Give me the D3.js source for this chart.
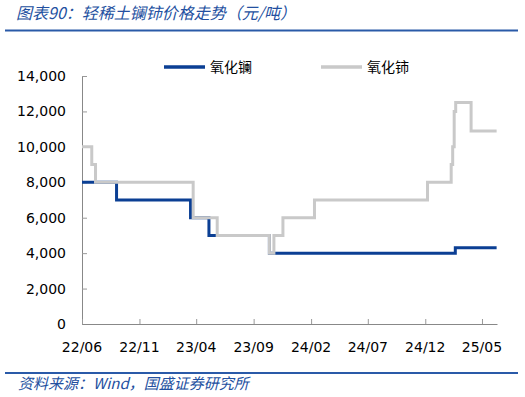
<!DOCTYPE html>
<html>
<head>
<meta charset="utf-8">
<script src="https://cdn.jsdelivr.net/npm/d3@7"></script>
<style>
  body { margin: 0; background: #fff; }
  svg { display: block; }
</style>
</head>
<body>
<script>
//chart data: step changes (date of change, price in yuan/ton)
var laDates = ["2022-06-01", "2022-09-01", "2023-03-17", "2023-05-05", "2023-10-13", "2025-02-19", "2025-06-09"];
var laValues = [8000, 7000, 6000, 5000, 4000, 4300, 4300];

var ceDates = ["2022-06-01", "2022-06-27", "2022-07-07", "2023-03-24", "2023-05-27", "2023-10-13", "2023-10-25",
               "2023-11-18", "2024-02-10", "2024-12-07", "2025-02-08", "2025-02-12", "2025-02-16", "2025-02-20",
               "2025-04-02", "2025-06-09"];
var ceValues = [10000, 9000, 8000, 6000, 5000, 4000, 5000,
                6000, 7000, 8000, 9000, 10000, 12000, 12500,
                10900, 10900];

var seriesNames = ["氧化镧", "氧化铈"];
var xTickLabels = ["22/06", "22/11", "23/04", "23/09", "24/02", "24/07", "24/12", "25/05"];
var yTicks = [0, 2000, 4000, 6000, 8000, 10000, 12000, 14000];

var titleText = "图表90：轻稀土镧铈价格走势（元/吨）";
var sourceText = "资料来源：Wind，国盛证券研究所";

//frame
var width = 525,
    height = 397;

var svg = d3.select("body")
    .append("svg")
    .attr("width", width)
    .attr("height", height);

var parse = d3.timeParse("%Y-%m-%d");
var fmtTick = d3.timeFormat("%y/%m");

var x = d3.scaleTime()
    .domain([parse("2022-06-01"), parse("2025-06-10")])
    .range([82, 497]);

var y = d3.scaleLinear()
    .domain([0, 14000])
    .range([324, 76]);

var blue = "#0b3f94",
    grey = "#c9c9c9",
    titleBlue = "#2350a0";

//title and rules
svg.append("text")
    .attr("x", 16)
    .attr("y", 19)
    .attr("font-family", "Noto Sans CJK SC")
    .attr("font-size", 16)
    .attr("font-style", "italic")
    .attr("fill", titleBlue)
    .text(titleText);

svg.append("line")
    .attr("x1", 5).attr("x2", 518)
    .attr("y1", 30.5).attr("y2", 30.5)
    .attr("stroke", "#2a5aa8")
    .attr("stroke-width", 2);

svg.append("line")
    .attr("x1", 5).attr("x2", 518)
    .attr("y1", 373).attr("y2", 373)
    .attr("stroke", "#2a5aa8")
    .attr("stroke-width", 2);

svg.append("text")
    .attr("x", 18)
    .attr("y", 389)
    .attr("font-family", "Noto Sans CJK SC")
    .attr("font-size", 15)
    .attr("font-style", "italic")
    .attr("fill", titleBlue)
    .text(sourceText);

//y axis
var yAxis = svg.append("g")
    .attr("transform", "translate(82,0)")
    .call(d3.axisRight(y).tickValues(yTicks).tickSize(5).tickFormat(""));
yAxis.select(".domain").attr("stroke", "#888");
yAxis.selectAll(".tick line").attr("stroke", "#999");

svg.selectAll(".ylab")
    .data(yTicks)
    .enter()
    .append("text")
    .attr("class", "ylab")
    .attr("x", 66)
    .attr("y", function(d){ return y(d) + 5; })
    .attr("text-anchor", "end")
    .attr("font-family", "DejaVu Sans")
    .attr("font-size", 14)
    .attr("fill", "#000")
    .text(d3.format(",d"));

//x axis
var xTickDates = xTickLabels.map(function(s){ return parse("20" + s.replace("/", "-") + "-01"); });
var xAxis = svg.append("g")
    .attr("transform", "translate(0,324)")
    .call(d3.axisTop(x).tickValues(xTickDates).tickSize(5).tickSizeOuter(0).tickFormat(""));
xAxis.select(".domain").attr("stroke", "#888");
xAxis.selectAll(".tick line").attr("stroke", "#999");

svg.selectAll(".xlab")
    .data(xTickDates)
    .enter()
    .append("text")
    .attr("class", "xlab")
    .attr("x", function(d){ return x(d); })
    .attr("y", 352)
    .attr("text-anchor", "middle")
    .attr("font-family", "DejaVu Sans")
    .attr("font-size", 14)
    .attr("fill", "#000")
    .text(fmtTick);

//lines
var line = d3.line()
    .x(function(d){ return x(d.date); })
    .y(function(d){ return y(d.value); })
    .curve(d3.curveStepAfter);

function toPoints(dates, values){
    return dates.map(function(s, i){ return { date: parse(s), value: values[i] }; });
}

svg.append("path")
    .datum(toPoints(laDates, laValues))
    .attr("fill", "none")
    .attr("stroke", blue)
    .attr("stroke-width", 3)
    .attr("d", line);

svg.append("path")
    .datum(toPoints(ceDates, ceValues))
    .attr("fill", "none")
    .attr("stroke", grey)
    .attr("stroke-width", 3)
    .attr("d", line);

//legend
var legend = [
    { name: seriesNames[0], color: blue, x: 164 },
    { name: seriesNames[1], color: grey, x: 321 }
];
legend.forEach(function(l){
    svg.append("line")
        .attr("x1", l.x).attr("x2", l.x + 41)
        .attr("y1", 67).attr("y2", 67)
        .attr("stroke", l.color)
        .attr("stroke-width", 3.5);
    svg.append("text")
        .attr("x", l.x + 46)
        .attr("y", 72)
        .attr("font-family", "Noto Sans CJK SC")
        .attr("font-size", 14)
        .attr("fill", "#000")
        .text(l.name);
});
</script>
</body>
</html>
